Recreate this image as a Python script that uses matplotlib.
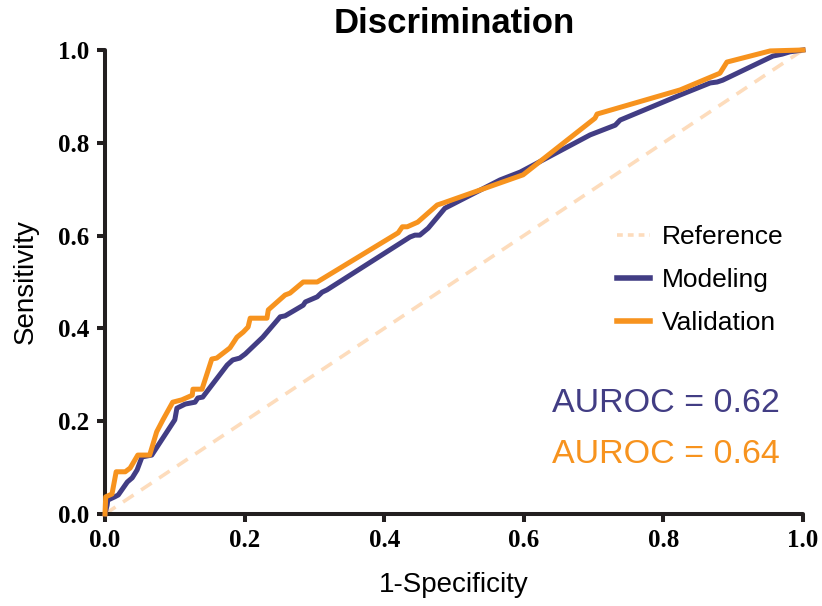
import numpy as np
import matplotlib
matplotlib.use("Agg")
import matplotlib.pyplot as plt

# ROC curve points (1-specificity, sensitivity)
modeling_fpr = [0.0, 0.003, 0.004, 0.014, 0.019, 0.032, 0.039, 0.046, 0.053, 0.067,
                0.100, 0.103, 0.115, 0.129, 0.133, 0.140, 0.175, 0.183, 0.193, 0.201,
                0.226, 0.251, 0.258, 0.284, 0.287, 0.304, 0.311, 0.318, 0.437, 0.444,
                0.451, 0.463, 0.487, 0.566, 0.595, 0.695, 0.731, 0.738, 0.824, 0.867,
                0.877, 0.885, 0.957, 0.970, 0.981, 1.0]
modeling_tpr = [0.0, 0.019, 0.030, 0.037, 0.041, 0.069, 0.078, 0.095, 0.123, 0.127,
                0.203, 0.228, 0.237, 0.241, 0.250, 0.252, 0.321, 0.332, 0.336, 0.345,
                0.381, 0.425, 0.427, 0.450, 0.457, 0.468, 0.478, 0.483, 0.597, 0.601,
                0.601, 0.616, 0.659, 0.720, 0.737, 0.817, 0.838, 0.849, 0.903, 0.929,
                0.931, 0.935, 0.987, 0.991, 0.996, 1.0]

validation_fpr = [0.0, 0.001, 0.010, 0.016, 0.029, 0.036, 0.047, 0.064, 0.074, 0.083,
                  0.097, 0.110, 0.125, 0.126, 0.139, 0.153, 0.160, 0.179, 0.189, 0.198,
                  0.205, 0.208, 0.232, 0.234, 0.258, 0.265, 0.284, 0.304, 0.420, 0.426,
                  0.433, 0.448, 0.476, 0.484, 0.599, 0.702, 0.705, 0.824, 0.881, 0.891,
                  0.953, 1.0]
validation_tpr = [0.0, 0.037, 0.043, 0.091, 0.091, 0.099, 0.127, 0.127, 0.177, 0.203,
                  0.241, 0.246, 0.256, 0.269, 0.269, 0.334, 0.336, 0.358, 0.381, 0.392,
                  0.403, 0.422, 0.422, 0.440, 0.472, 0.476, 0.500, 0.500, 0.606, 0.619,
                  0.619, 0.629, 0.666, 0.670, 0.731, 0.853, 0.862, 0.914, 0.950, 0.974,
                  0.998, 1.0]

reference_line = [0.0, 1.0]
auroc_modeling = 0.62
auroc_validation = 0.64

PURPLE = "#423d84"
ORANGE = "#f7931e"
PEACH = "#fddcbc"
DARK = "#231f20"

fig = plt.figure(figsize=(8.22, 6.06), dpi=100)
ax = fig.add_axes([105 / 822, 92 / 606, 698 / 822, 464 / 606])

ax.plot(reference_line, reference_line, color=PEACH, lw=2.6,
        dashes=(3.5, 2.5), label="Reference", clip_on=False, zorder=2)
ax.plot(modeling_fpr, modeling_tpr, color=PURPLE, lw=3.6,
        label="Modeling", clip_on=False, zorder=3)
ax.plot(validation_fpr, validation_tpr, color=ORANGE, lw=3.6,
        label="Validation", clip_on=False, zorder=4)

ax.set_xlim(0, 1)
ax.set_ylim(0, 1)
ticks = np.arange(0, 1.01, 0.2)
ax.set_xticks(ticks)
ax.set_yticks(ticks)
tick_font = dict(family="Liberation Serif", weight="bold", size=18)
ax.set_xticklabels([f"{t:.1f}" for t in ticks], fontdict=tick_font)
ax.set_yticklabels([f"{t:.1f}" for t in ticks], fontdict=tick_font)
ax.tick_params(length=6, width=2.9, color=DARK, pad=5)

for side in ["top", "right"]:
    ax.spines[side].set_visible(False)
for side in ["left", "bottom"]:
    ax.spines[side].set_linewidth(2.9)
    ax.spines[side].set_color(DARK)
    ax.spines[side].set_capstyle("round")

sans = "Liberation Sans"
ax.set_xlabel("1-Specificity", fontsize=20, family=sans, labelpad=14)
ax.set_ylabel("Sensitivity", fontsize=20, family=sans, labelpad=14)
ax.set_title("Discrimination", fontsize=25, family=sans, weight="bold", pad=12)

leg = ax.legend(loc="upper left", bbox_to_anchor=(0.733, 0.623), frameon=False,
                prop=dict(family=sans, size=19), handlelength=1.25,
                handletextpad=0.45, labelspacing=0.72, borderpad=0,
                borderaxespad=0)
# thicker solid handles, keep the dashed one as three short dashes
for line in leg.get_lines()[1:]:
    line.set_linewidth(4.0)
leg.get_lines()[0].set_dashes((1.6, 1.4))

ax.text(0.967, 0.22, f"AUROC = {auroc_modeling:.2f}", transform=ax.transAxes,
        ha="right", va="baseline", fontsize=24.5, family=sans, color=PURPLE)
ax.text(0.967, 0.11, f"AUROC = {auroc_validation:.2f}", transform=ax.transAxes,
        ha="right", va="baseline", fontsize=24.5, family=sans, color=ORANGE)

fig.savefig("out.png", dpi=100)
